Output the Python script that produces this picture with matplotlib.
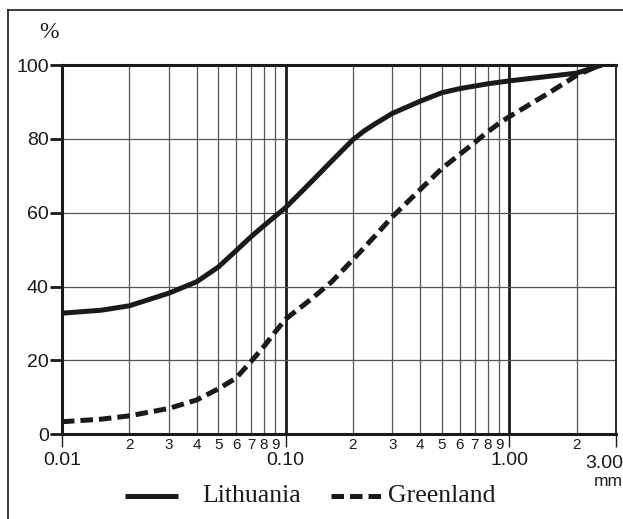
import numpy as np
import matplotlib.pyplot as plt
from matplotlib.lines import Line2D

# grain size (mm) and cumulative percentage
lit_x = [0.01, 0.015, 0.02, 0.03, 0.04, 0.05, 0.06, 0.07, 0.08, 0.09, 0.10, 0.12, 0.14, 0.16, 0.20,
         0.225, 0.25, 0.30, 0.40, 0.50, 0.60, 0.80, 1.00, 2.00, 2.6]
lit_y = [32.8, 33.6, 34.8, 38.2, 41.3, 45.3, 49.7, 53.5, 56.5, 59.1, 61.4, 66.2, 70.3, 73.9, 79.8,
         82.2, 84.0, 86.9, 90.2, 92.5, 93.6, 94.9, 95.7, 97.8, 100.0]

grl_x = [0.01, 0.015, 0.02, 0.03, 0.04, 0.05, 0.06, 0.07, 0.08, 0.09, 0.10, 0.13, 0.16, 0.20, 0.25,
         0.30, 0.40, 0.50, 0.60, 0.70, 0.80, 0.90, 1.00, 1.5, 2.00, 2.55]
grl_y = [3.4, 4.1, 5.0, 7.0, 9.3, 12.3, 15.2, 19.7, 23.8, 27.8, 31.2, 36.6, 41.2, 47.3, 53.6,
         58.9, 66.3, 72.0, 75.8, 79.0, 81.9, 84.2, 86.0, 92.4, 97.2, 100.0]

major_ticks = [0.01, 0.1, 1.0]
major_labels = ['0.01', '0.10', '1.00']
y_ticks = [0, 20, 40, 60, 80, 100]

W, H = 623, 519
ink = '#1a1a1a'
fig = plt.figure(figsize=(W / 100, H / 100), dpi=100)
ax = fig.add_axes([62 / W, (H - 434.3) / H, (616 - 62) / W, (434.3 - 65) / H])

ax.set_xscale('log')
ax.set_xlim(0.01, 3.0)
ax.set_ylim(0, 100)

# minor grid (2..9 in each decade)
minors = [m * d for d in [0.01, 0.1, 1.0] for m in range(2, 10) if m * d < 3.0]
for v in minors:
    ax.axvline(v, color='#555555', lw=0.9, zorder=1)
for v in major_ticks[1:]:
    ax.axvline(v, color=ink, lw=2.0, zorder=1)
for v in y_ticks[1:-1]:
    ax.axhline(v, color='#555555', lw=0.9, zorder=1)

ax.plot(lit_x, lit_y, color=ink, lw=3.6, solid_capstyle='butt', solid_joinstyle='round', zorder=3)
ax.plot(grl_x, grl_y, color=ink, lw=3.6, dashes=(2.5, 1.2), dash_capstyle='butt',
        dash_joinstyle='round', zorder=3)

for s in ['left', 'bottom', 'top']:
    ax.spines[s].set_linewidth(2.2)
    ax.spines[s].set_color(ink)
ax.spines['right'].set_linewidth(1.3)
ax.spines['right'].set_color(ink)

ax.set_yticks(y_ticks)
ax.set_yticklabels([str(v) for v in y_ticks], fontsize=14, family='Liberation Sans')
ax.tick_params(axis='y', direction='out', length=8.5, width=2, pad=1, colors=ink)

ax.set_xticks(major_ticks + [3.0])
ax.set_xticklabels(major_labels + [''], fontsize=14, family='Liberation Sans')
ax.tick_params(axis='x', which='major', direction='out', length=9, width=1, pad=4, colors=ink)
ax.set_xticks(minors, minor=True)
ax.set_xticklabels([str(int(round(v / 10 ** np.floor(np.log10(v) + 1e-9)))) for v in minors],
                   minor=True, fontsize=11, family='Liberation Sans')
ax.tick_params(axis='x', which='minor', length=0, pad=3, colors=ink)

fig.text(623 / W, 1 - 463 / H, '3.00', ha='right', va='center', fontsize=14, family='Liberation Sans', color=ink)
fig.text(623 / W, 1 - 482 / H, 'mm', ha='right', va='center', fontsize=12.5, family='Liberation Sans', color=ink)
fig.text(49 / W, 1 - 33 / H, '%', ha='center', va='center', fontsize=17, family='Liberation Serif', color=ink)

# legend
fig.add_artist(Line2D([125 / W, 178 / W], [1 - 496 / H] * 2, color=ink, lw=3.6, solid_capstyle='butt'))
fig.text(202 / W, 1 - 496 / H, 'Lithuania', ha='left', va='center', fontsize=18.5, family='Liberation Serif', color=ink)
fig.add_artist(Line2D([331 / W, 382 / W], [1 - 496 / H] * 2, color=ink, lw=3.6, dashes=(2.5, 1.2), dash_capstyle='butt'))
fig.text(388 / W, 1 - 496 / H, 'Greenland', ha='left', va='center', fontsize=18.5, family='Liberation Serif', color=ink)

# outer frame
fig.add_artist(Line2D([7.5 / W, 7.5 / W], [0, 1 - 10 / H], color=ink, lw=1.2))
fig.add_artist(Line2D([7.5 / W, 1], [1 - 10 / H] * 2, color=ink, lw=1.2))

fig.savefig('out.png', dpi=100)
